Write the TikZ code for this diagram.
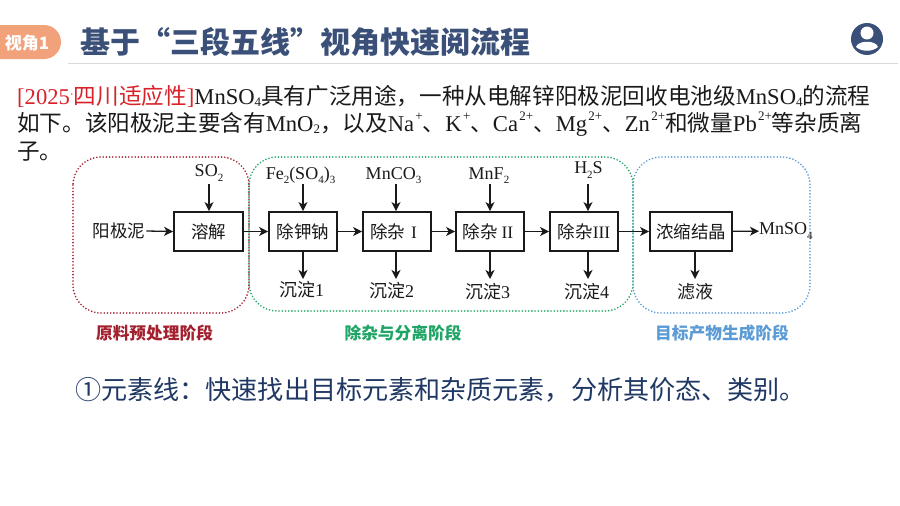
\documentclass[tikz,border=0pt]{standalone}
\usepackage{fontspec}
\setmainfont{Liberation Serif}
\newfontfamily\cjk{Noto Sans CJK SC}
\usetikzlibrary{arrows.meta}
\definecolor{navy}{HTML}{3B5078}
\definecolor{deepnavy}{HTML}{1F3864}
\definecolor{pill}{HTML}{F2A27A}
\definecolor{redc}{HTML}{A3202E}
\definecolor{greenc}{HTML}{1FA565}
\definecolor{bluec}{HTML}{5B9BD5}
\definecolor{redt}{HTML}{D8222A}
\definecolor{ink}{HTML}{1A1A1A}
\newcommand{\mysub}[1]{\raisebox{-0.22ex}{\fontsize{13}{13}\selectfont #1}}
\newcommand{\mysup}[1]{\kern1.3pt\raisebox{1.05ex}{\fontsize{13}{13}\selectfont #1}}
\newcommand{\fsub}[1]{\raisebox{-0.5ex}{\fontsize{11}{11}\selectfont #1}}
\newcommand{\zh}[1]{{\cjk #1}}
\tikzset{
  x=1pt,y=-1pt,
  region/.style={draw=#1,line width=1.8pt,line cap=round,dash pattern=on 0pt off 3.2pt,rounded corners=28pt},
  procbox/.style={draw=ink,line width=1.8pt,minimum height=39pt,inner sep=0pt,font=\fontsize{17.5}{17.5}\selectfont\cjk,text=ink},
  flabel/.style={font=\fontsize{18}{18}\selectfont,text=ink,inner sep=0pt},
  conn/.style={draw=ink,line width=1.3pt,-{Stealth[length=9pt,width=9pt,inset=2.5pt]}},
  body/.style={anchor=west,inner sep=0pt,font=\fontsize{22.6}{22.6}\selectfont,text=ink},
  stage/.style={inner sep=0pt,font=\fontsize{16.7}{16.7}\selectfont\cjk\bfseries},
}
\begin{document}
\begin{tikzpicture}
\useasboundingbox (0,0) rectangle (900,506);
\fill[white] (0,0) rectangle (900,506);
% header
\fill[pill] (0,25) -- (44,25) arc[start angle=-90,end angle=90,x radius=17pt,y radius=-17pt] -- (0,59) -- cycle;
\node[inner sep=0pt,text=white,font=\fontsize{17}{17}\selectfont\cjk\bfseries] (tag) at (27,43) {视角1};
\node[anchor=west,inner sep=0pt,text=navy,font=\fontsize{30}{30}\selectfont\cjk\bfseries] (title) at (80,42) {基于“三段五线”视角快速阅流程};
\draw[draw=black!15,line width=1.6pt] (68,63.5) -- (898,63.5);
\fill[navy] (867,39) circle[radius=16pt];
\fill[white] (867,33) circle[radius=6.5pt];
\fill[white] (856,47) .. controls (858,40) and (876,40) .. (878,47) .. controls (872,52) and (862,52) .. (856,47) -- cycle;
% text
\node[body] (l1) at (17,96) {\textcolor{redt}{[2025\raisebox{0.5ex}{\fontsize{12}{12}\selectfont ·}\zh{四川适应性}]}MnSO\mysub{4}\zh{具有广泛用途，一种从电解锌阳极泥回收电池级}MnSO\mysub{4}\zh{的流程}};
\node[body] (l2) at (17,124) {\zh{如下。该阳极泥主要含有}MnO\mysub{2}\zh{，以及}Na\mysup{+}\zh{、}K\mysup{+}\zh{、}Ca\mysup{2+}\zh{、}Mg\mysup{2+}\zh{、}Zn\mysup{2+}\zh{和微量}Pb\mysup{2+}\zh{等杂质离}};
\node[body] (l3) at (17,152) {\zh{子。}};
% regions
\draw[region=redc] (73,157) rectangle (249,313);
\draw[region=greenc] (249,157) rectangle (633,311);
\draw[region=bluec] (633,157) rectangle (810,313);
% boxes
\node[procbox,minimum width=69pt] (rj) at (208.5,231.5) {溶解};
\node[procbox,minimum width=68pt] (cjn) at (303,231.5) {除钾钠};
\node[procbox,minimum width=68pt] (c1) at (397,231.5) {除杂 \kern2pt{\rmfamily I}\kern7pt};
\node[procbox,minimum width=68pt] (c2) at (490,231.5) {除杂 {\rmfamily II}\kern4pt};
\node[procbox,minimum width=68pt] (c3) at (584,231.5) {除杂{\rmfamily III}};
\node[procbox,minimum width=82pt] (nj) at (691,231.5) {浓缩结晶};
% inputs
\node[flabel,font=\fontsize{17.5}{17.5}\selectfont\cjk] (yjn) at (119,231) {阳极泥};
\node[flabel] (so2) at (209,173) {SO\fsub{2}};
\node[flabel] (fe) at (300.5,175) {Fe\fsub{2}(SO\fsub{4})\fsub{3}};
\node[flabel] (mnco) at (393.5,176) {MnCO\fsub{3}};
\node[flabel] (mnf) at (489,176) {MnF\fsub{2}};
\node[flabel] (hs) at (588.5,170) {H\fsub{2}S};
\node[flabel,anchor=west] (prod) at (759,231) {MnSO\fsub{4}};
% outputs
\node[flabel] (s1) at (301.5,290) {\zh{沉淀}1};
\node[flabel] (s2) at (391.5,291) {\zh{沉淀}2};
\node[flabel] (s3) at (487.5,292) {\zh{沉淀}3};
\node[flabel] (s4) at (586.5,292) {\zh{沉淀}4};
\node[flabel] (lv) at (695,292) {\zh{滤液}};
% coordinates for vertical connector ends
\coordinate (a1) at (209,184); \coordinate (a2) at (303,184); \coordinate (a3) at (396,184);
\coordinate (a4) at (490,184); \coordinate (a5) at (588,184);
\coordinate (b2) at (303,279); \coordinate (b3) at (396,279); \coordinate (b4) at (490,279);
\coordinate (b5) at (588,279); \coordinate (b6) at (695,279);
% connectors
\draw[conn] (yjn.east) ++(1,0) -- (rj.west);
\draw[conn] (rj) -- (cjn);
\draw[conn] (cjn) -- (c1);
\draw[conn] (c1) -- (c2);
\draw[conn] (c2) -- (c3);
\draw[conn] (c3) -- (nj);
\draw[conn] (nj) -- (prod);
\draw[conn] (a1) -- (a1 |- rj.north);
\draw[conn] (a2) -- (a2 |- cjn.north);
\draw[conn] (a3) -- (a3 |- c1.north);
\draw[conn] (a4) -- (a4 |- c2.north);
\draw[conn] (a5) -- (a5 |- c3.north);
\draw[conn] (b2 |- cjn.south) -- (b2);
\draw[conn] (b3 |- c1.south) -- (b3);
\draw[conn] (b4 |- c2.south) -- (b4);
\draw[conn] (b5 |- c3.south) -- (b5);
\draw[conn] (b6 |- nj.south) -- (b6);
% stage labels
\node[stage,text=redc] (st1) at (154.5,333) {原料预处理阶段};
\node[stage,text=greenc] (st2) at (403,333) {除杂与分离阶段};
\node[stage,text=bluec] (st3) at (722,333) {目标产物生成阶段};
% sentence
\node[anchor=west,inner sep=0pt,text=deepnavy,font=\fontsize{26.1}{26.1}\selectfont\cjk] (sent) at (75,390) {①元素线：快速找出目标元素和杂质元素，分析其价态、类别。};
\end{tikzpicture}
\end{document}
